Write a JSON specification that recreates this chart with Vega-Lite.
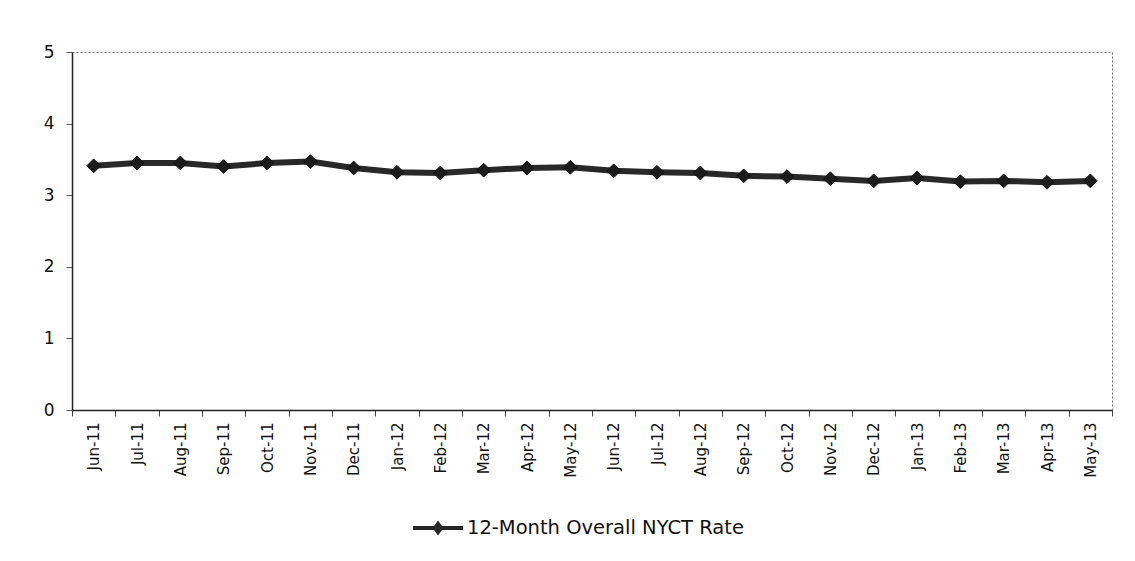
{
  "$schema": "https://vega.github.io/schema/vega-lite/v6.json",
  "width": 1040,
  "height": 358,
  "autosize": {"type": "none"},
  "padding": {"left": 72, "top": 52, "right": 23, "bottom": 151},
  "background": "white",
  "config": {
    "font": "DejaVu Sans",
    "view": {"stroke": "#777", "strokeDash": [2, 2], "strokeWidth": 1}
  },
  "data": {
    "values": [
      {"month": "Jun-11", "rate": 3.41},
      {"month": "Jul-11", "rate": 3.45},
      {"month": "Aug-11", "rate": 3.45},
      {"month": "Sep-11", "rate": 3.40},
      {"month": "Oct-11", "rate": 3.45},
      {"month": "Nov-11", "rate": 3.47},
      {"month": "Dec-11", "rate": 3.38},
      {"month": "Jan-12", "rate": 3.32},
      {"month": "Feb-12", "rate": 3.31},
      {"month": "Mar-12", "rate": 3.35},
      {"month": "Apr-12", "rate": 3.38},
      {"month": "May-12", "rate": 3.39},
      {"month": "Jun-12", "rate": 3.34},
      {"month": "Jul-12", "rate": 3.32},
      {"month": "Aug-12", "rate": 3.31},
      {"month": "Sep-12", "rate": 3.27},
      {"month": "Oct-12", "rate": 3.26},
      {"month": "Nov-12", "rate": 3.23},
      {"month": "Dec-12", "rate": 3.20},
      {"month": "Jan-13", "rate": 3.24},
      {"month": "Feb-13", "rate": 3.19},
      {"month": "Mar-13", "rate": 3.20},
      {"month": "Apr-13", "rate": 3.18},
      {"month": "May-13", "rate": 3.20}
    ]
  },
  "encoding": {
    "x": {
      "field": "month",
      "type": "ordinal",
      "sort": null,
      "title": null,
      "scale": {"paddingInner": 0, "paddingOuter": 0},
      "axis": {
        "labelAngle": 270,
        "labelAlign": "right",
        "labelBaseline": "middle",
        "labelFontSize": 15,
        "labelColor": "#111",
        "labelPadding": 6,
        "tickBand": "extent",
        "tickSize": 6,
        "tickColor": "#444",
        "domainColor": "#222",
        "domainWidth": 1.5
      }
    },
    "y": {
      "field": "rate",
      "type": "quantitative",
      "title": null,
      "scale": {"domain": [0, 5]},
      "axis": {
        "values": [0, 1, 2, 3, 4, 5],
        "grid": false,
        "labelFontSize": 17,
        "labelColor": "#111",
        "labelPadding": 12,
        "tickSize": 6,
        "tickColor": "#555",
        "domainColor": "#222",
        "domainWidth": 1.5
      }
    },
    "color": {
      "datum": "12-Month Overall NYCT Rate",
      "type": "nominal",
      "scale": {"range": ["#1c1c1c"]},
      "legend": {
        "title": null,
        "orient": "none",
        "legendX": 356,
        "legendY": 466,
        "labelFontSize": 19.5,
        "labelColor": "#111",
        "labelLimit": 400,
        "labelOffset": 19,
        "symbolType": "M-2.5,-0.2H-0.4L0,-0.75L0.4,-0.2H2.5V0.2H0.4L0,0.75L-0.4,0.2H-2.5Z",
        "symbolSize": 400,
        "symbolFillColor": "#1c1c1c",
        "symbolStrokeWidth": 0
      }
    }
  },
  "layer": [
    {"mark": {"type": "line", "strokeWidth": 6, "opacity": 0.95}},
    {
      "mark": {
        "type": "point",
        "shape": "diamond",
        "filled": true,
        "size": 190,
        "opacity": 1,
        "stroke": "#111",
        "strokeWidth": 1
      }
    }
  ]
}
